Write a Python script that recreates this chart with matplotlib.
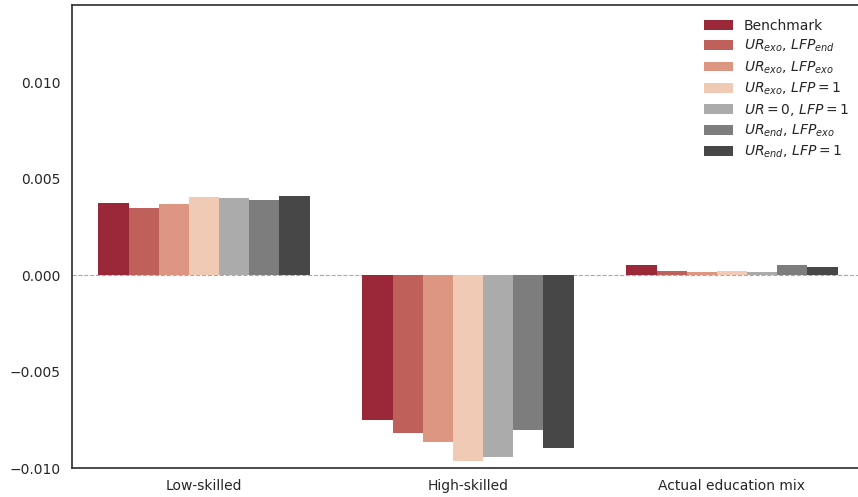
import matplotlib
matplotlib.use('Agg')
import matplotlib.pyplot as plt
import numpy as np

categories = ['Low-skilled', 'High-skilled', 'Actual education mix']
scenarios = ['Benchmark',
             r'$UR_{exo}$, $LFP_{end}$',
             r'$UR_{exo}$, $LFP_{exo}$',
             r'$UR_{exo}$, $LFP=1$',
             r'$UR=0$, $LFP=1$',
             r'$UR_{end}$, $LFP_{exo}$',
             r'$UR_{end}$, $LFP=1$']
colors = ['#9a2838', '#bf615a', '#dc9682', '#f0cab5', '#ababab', '#7d7d7d', '#474747']

# effect for each scenario: low-skilled, high-skilled, actual mix
benchmark = [0.00374, -0.00751, 0.00052]
ur_exo_lfp_end = [0.00348, -0.00819, 0.00022]
ur_exo_lfp_exo = [0.00369, -0.00865, 0.00016]
ur_exo_lfp_1 = [0.00405, -0.00963, 0.00022]
ur_0_lfp_1 = [0.00400, -0.00943, 0.00016]
ur_end_lfp_exo = [0.00389, -0.00803, 0.00052]
ur_end_lfp_1 = [0.00410, -0.00896, 0.00041]
series = [benchmark, ur_exo_lfp_end, ur_exo_lfp_exo, ur_exo_lfp_1,
          ur_0_lfp_1, ur_end_lfp_exo, ur_end_lfp_1]

plt.rcParams['font.family'] = 'DejaVu Sans'
plt.rcParams['font.size'] = 10
plt.rcParams['text.color'] = '#262626'

fig = plt.figure(figsize=(8.58, 4.97), dpi=100)
ax = fig.add_axes([72 / 858, 29 / 497, 792 / 858, 463 / 497])

n = len(series)
w = 0.8 / n
x = np.arange(len(categories))
for i, vals in enumerate(series):
    ax.bar(x - 0.4 + w * (i + 0.5), vals, width=w, color=colors[i],
           label=scenarios[i], linewidth=0)

ax.axhline(0, ls='--', color='#aaaaaa', lw=0.8, zorder=0)
ax.set_xlim(-0.5, 2.5)
ax.set_ylim(-0.010, 0.014)
ax.set_yticks([-0.010, -0.005, 0.0, 0.005, 0.010])
ax.set_yticklabels(['\u22120.010', '\u22120.005', '0.000', '0.005', '0.010'])
ax.set_xticks(x)
ax.set_xticklabels(categories)
ax.tick_params(length=0, pad=8, colors='#262626', labelsize=10)
for s in ax.spines.values():
    s.set_color('#333333')
    s.set_linewidth(1.25)

leg = ax.legend(loc='upper left', frameon=False,
                handlelength=2.1, handleheight=0.7, labelspacing=0.35,
                borderaxespad=0.3)
leg.set_bbox_to_anchor((0.809, 0.981), transform=fig.transFigure)

fig.savefig('out.png', dpi=100)
